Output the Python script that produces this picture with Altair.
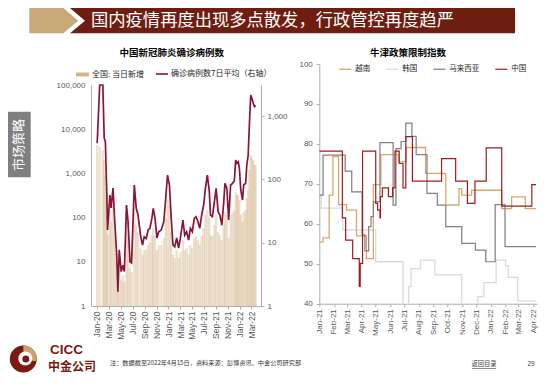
import altair as alt
import pandas as pd

CJK = "Noto Sans CJK SC"
LAT = "Liberation Sans"

# ---------------- left panel: 中国新冠肺炎确诊病例数 ----------------
case_dates = [
    "2020-01-02", "2020-01-15", "2020-01-31", "2020-02-07", "2020-02-13", "2020-02-20", "2020-02-24",
    "2020-03-07", "2020-03-13", "2020-03-23", "2020-04-01", "2020-04-11", "2020-04-17", "2020-04-24",
    "2020-05-04", "2020-05-13", "2020-05-20", "2020-05-31", "2020-06-08", "2020-06-18", "2020-06-26",
    "2020-07-10", "2020-07-20", "2020-07-29", "2020-08-11", "2020-08-21", "2020-08-30", "2020-09-09",
    "2020-09-19", "2020-09-28", "2020-10-08", "2020-10-15", "2020-10-24", "2020-11-03", "2020-11-12",
    "2020-11-25", "2020-12-08", "2020-12-18", "2020-12-27", "2021-01-06", "2021-01-15", "2021-01-24",
    "2021-02-02", "2021-02-12", "2021-02-22", "2021-03-03", "2021-03-16", "2021-03-25", "2021-04-04",
    "2021-04-14", "2021-04-23", "2021-05-03", "2021-05-13", "2021-05-22", "2021-06-01", "2021-06-10",
    "2021-06-20", "2021-06-30", "2021-07-09", "2021-07-19", "2021-07-29", "2021-08-04", "2021-08-14",
    "2021-08-24", "2021-09-02", "2021-09-12", "2021-09-21", "2021-10-01", "2021-10-11", "2021-10-17",
    "2021-10-27", "2021-11-05", "2021-11-15", "2021-11-25", "2021-12-04", "2021-12-11", "2021-12-17",
    "2021-12-24", "2021-12-30", "2022-01-06", "2022-01-15", "2022-01-21", "2022-01-31", "2022-02-06",
    "2022-02-13", "2022-02-19", "2022-02-26", "2022-03-04", "2022-03-11", "2022-03-17", "2022-03-23",
]
# 确诊病例数7日平均（右轴）
case_avg7 = [
    372, 3100, 3100, 451, 394, 64, 15.9,
    56.7, 35.3, 73, 21.5, 6.4, 1.68, 7.7,
    3.5, 4.4, 3.5, 39.4, 21.5, 5.0, 4.8,
    81.6, 35.3, 27.4, 13.2, 9.2, 12.4, 11.7,
    15.9, 16.9, 24.3, 34.9, 24.5, 11.9, 14.9,
    15.9, 21.5, 50.8, 117, 81.6, 24.3, 9.2,
    8.6, 11.9, 8.2, 11.9, 22.8, 13.2, 14.9,
    11.0, 16.9, 14.9, 24.3, 25.8, 21.5, 16.9,
    27.4, 39.4, 72.3, 117, 64, 27.4, 25.8,
    44.4, 72.3, 30.9, 27.4, 19.0, 44.4, 86.7,
    72.3, 22.8, 81.6, 86.7, 94.4, 202, 180,
    190, 150, 68, 47.3, 81.6, 86.7, 169,
    243, 724, 2153, 1910, 1592, 1408, 1480,
]
# 全国: 当日新增（左轴）
case_daily = [
    4390, 3960, 3380, 2010, 920, 324, 40,
    149, 80, 193, 40, 9.9, 2.3, 9.9,
    3.9, 5.0, 3.5, 80, 40, 7.2, 5.9,
    193, 68, 47, 20.5, 14.3, 18.5, 18.5,
    24, 28, 40, 58, 40, 18.5, 24,
    24, 34.5, 98, 250, 193, 47, 14.3,
    12.2, 18.5, 12.2, 16.7, 31, 18.5, 20.5,
    14.3, 24, 20.5, 34.5, 38, 31, 24,
    40, 58, 115, 149, 98, 40, 38,
    68, 115, 47, 40, 31, 68, 134,
    115, 34.5, 115, 134, 149, 379, 324,
    324, 250, 115, 80, 134, 149, 277,
    421, 1194, 2610, 2230, 2010, 1549, 1549,
]
left_ticks = ["2020-01-01", "2020-03-01", "2020-05-01", "2020-07-01", "2020-09-01", "2020-11-01",
              "2021-01-01", "2021-03-01", "2021-05-01", "2021-07-01", "2021-09-01", "2021-11-01",
              "2022-01-01", "2022-03-01"]
left_span = ["2019-12-27", "2022-03-25"]

# ---------------- right panel: 牛津政策限制指数 ----------------
countries = ["越南", "韩国", "马来西亚", "中国"]
kr_dates = ["2021-01-01", "2021-01-05", "2021-02-20", "2021-05-01", "2021-06-28", "2021-07-10", "2021-07-15",
            "2021-08-04", "2021-09-04", "2021-10-31", "2021-12-04", "2021-12-17", "2022-01-12", "2022-02-01",
            "2022-02-07", "2022-02-27", "2022-04-07"]
kr_vals = [67.2, 63.9, 58.5, 50.5, 38, 44.3, 48.8, 50.9, 47.2, 38, 41.8, 45.3, 50.9, 49.5, 46.6, 40.7, 40.7]

vn_dates = ["2021-01-01", "2021-01-09", "2021-01-22", "2021-01-30", "2021-02-11", "2021-02-28", "2021-03-21",
            "2021-04-11", "2021-04-26", "2021-05-12", "2021-06-18", "2021-07-05", "2021-08-15", "2021-09-27",
            "2021-10-25", "2021-10-31", "2021-11-21", "2022-01-24", "2022-02-14", "2022-03-15", "2022-04-07"]
vn_vals = [55.5, 56.5, 67.2, 76.8, 64.8, 63.4, 57.0, 51.3, 69.8, 77.3, 75.5, 79.1, 72.6, 64.7,
           68.8, 67.2, 68.4, 63.8, 66.75, 63.8, 63.8]

my_dates = ["2021-01-01", "2021-01-09", "2021-02-25", "2021-03-11", "2021-04-02", "2021-04-08", "2021-04-16",
            "2021-04-21", "2021-04-26", "2021-05-10", "2021-06-07", "2021-06-13", "2021-06-24", "2021-07-04",
            "2021-07-17", "2021-07-26", "2021-08-18", "2021-09-09", "2021-09-27", "2021-10-31", "2021-11-29",
            "2021-12-21", "2022-01-10", "2022-01-31", "2022-04-07"]
my_vals = [67.2, 77.2, 73.2, 68.0, 57.2, 53.2, 59.3, 61.8, 65.5, 80.3, 64.7, 78.8, 80.6, 85.2,
           81.9, 77.3, 67.6, 64.7, 59.3, 55.1, 53.4, 50.5, 64.8, 54.3, 54.3]

cn_dates = ["2021-01-01", "2021-02-19", "2021-02-26", "2021-03-13", "2021-03-27", "2021-03-29", "2021-04-03",
            "2021-05-01", "2021-05-05", "2021-05-10", "2021-05-11", "2021-05-15", "2021-05-28", "2021-06-06",
            "2021-06-11", "2021-06-20", "2021-06-28", "2021-07-04", "2021-07-18", "2021-09-18", "2021-10-18",
            "2021-11-12", "2021-11-28", "2021-12-22", "2022-01-24", "2022-03-29", "2022-04-07"]
cn_vals = [78.2, 61.5, 55.9, 51.3, 44.3, 50.1, 78.2, 65.1, 63.4, 61.5, 66.8, 69.0, 66.8, 69.0,
           78.2, 75.1, 69.0, 81.8, 70.7, 76.3, 70.7, 65.1, 70.7, 79.0, 64.4, 69.8, 69.8]

right_ticks = ["2021-01-01", "2021-02-01", "2021-03-01", "2021-04-01", "2021-05-01", "2021-06-01",
               "2021-07-01", "2021-08-01", "2021-09-01", "2021-10-01", "2021-11-01", "2021-12-01",
               "2022-01-01", "2022-02-01", "2022-03-01", "2022-04-01"]
right_span = ["2021-01-01", "2022-04-09"]

# ---------------- texts ----------------
banner_text = "国内疫情再度出现多点散发，行政管控再度趋严"
left_title = "中国新冠肺炎确诊病例数"
right_title = "牛津政策限制指数"
side_text = "市场策略"
note_text = "注：数据截至2022年4月15日，资料来源：彭博资讯，中金公司研究部"


def ms(s):
    return int(pd.Timestamp(s, tz="UTC").value // 10**6)


AX = dict(labelColor="#595959", domainColor="#ADADAD", tickColor="#ADADAD", grid=False,
          title=None, labelFont=LAT)

# ---------------- build left panel ----------------
ldf = pd.DataFrame({"date": case_dates, "avg": case_avg7, "daily": case_daily, "base": 1.0})
ldf["s1"] = "全国: 当日新增"
ldf["s2"] = "确诊病例数7日平均（右轴）"

lx = alt.X("date:T",
           scale=alt.Scale(type="utc", domain=[ms(left_span[0]), ms(left_span[1])], nice=False),
           axis=alt.Axis(values=[ms(t) for t in left_ticks], format="%b-%y", labelAngle=-90,
                         labelFontSize=8.5, tickSize=3, labelPadding=2, labelOverlap=False, **AX))

bars = alt.Chart(ldf).mark_bar(size=2.4, opacity=0.4).encode(
    x=lx,
    y=alt.Y("daily:Q",
            scale=alt.Scale(type="log", domain=[1, 100000], range=[242, 21], nice=False),
            axis=alt.Axis(values=[1, 10, 100, 1000, 10000, 100000], format=",", ticks=False,
                          labelFontSize=8, labelPadding=6, **AX)),
    y2="base:Q",
    color=alt.Color("s1:N", scale=alt.Scale(range=["#D2B48A"]),
                    legend=alt.Legend(orient="none", legendX=-16, legendY=3, title=None,
                                      symbolType="M-1,-0.3H1V0.3H-1Z", symbolSize=169,
                                      symbolOpacity=1, labelFontSize=8, labelFont=CJK,
                                      labelColor="#262626", labelOffset=2)),
)

line = alt.Chart(ldf).mark_line(strokeWidth=1.7).encode(
    x=lx,
    y=alt.Y("avg:Q",
            scale=alt.Scale(type="log", domain=[1, 3100], range=[242, 21], nice=False),
            axis=alt.Axis(orient="right", values=[1, 10, 100, 1000], format=",", tickSize=3,
                          labelFontSize=8, labelPadding=3, **AX)),
    stroke=alt.Stroke("s2:N", scale=alt.Scale(range=["#8A1538"]),
                      legend=alt.Legend(orient="none", legendX=64, legendY=3, title=None,
                                        symbolType="stroke", symbolSize=144, symbolStrokeWidth=1.6,
                                        labelFontSize=8, labelFont=CJK, labelColor="#262626",
                                        labelOffset=2)),
)

one = pd.DataFrame({"k": [0]})


def deco_text(s, x, y, size, color, font=CJK, weight="normal", align="left", angle=0):
    return alt.Chart(one).mark_text(text=s, fontSize=size, color=color, font=font, fontWeight=weight,
                                    align=align, baseline="middle", angle=angle).encode(
        x=alt.value(x), y=alt.value(y))


def deco_rect(x1, x2, y1, y2, color):
    return alt.Chart(one).mark_rect(color=color).encode(
        x=alt.value(x1), x2=alt.value(x2), y=alt.value(y1), y2=alt.value(y2))


def deco_poly(path, color):
    return alt.Chart(one).mark_point(shape=path, size=4, filled=True, opacity=1, color=color,
                                     strokeWidth=0).encode(x=alt.value(0), y=alt.value(0))


def deco_disc(cx, cy, r, color, t0=0.0, t1=6.2832):
    return alt.Chart(one).mark_arc(radius=r, theta=t0, theta2=t1, color=color).encode(
        x=alt.value(cx), y=alt.value(cy))


DARK = "#7A1A12"
TAN = "#C8A36E"
decos = [
    deco_poly("M-61.7,-56L-27.7,-56L-12.7,-43.3L-27.7,-30.7L-61.7,-30.7Z", "#C9A97A"),
    deco_poly("M-21,-56L424,-56L424,-30.7L-21,-30.7L-6,-43.3Z", "#6E1D10"),
    deco_text(banner_text, 0, -43.4, 17.3, "white"),
    deco_rect(-83, -60.3, 47.7, 113.3, "#7F7F7F"),
    deco_text(side_text, -72.5, 81, 13, "white", align="center", angle=270),
    deco_text(left_title, 80.7, -10.7, 9.5, "black", weight="bold", align="center"),
    deco_disc(-67.7, 295, 13.5, DARK),
    deco_disc(-67.7, 295, 13.5, TAN, 0.0, 1.75),
    deco_disc(-65.7, 294.5, 7, "white"),
    deco_disc(-65.2, 295, 3.5, DARK),
    deco_text("CICC", -41, 286.3, 13.5, DARK, font=LAT, weight="bold"),
    deco_text("中金公司", -43, 302.8, 12, DARK, weight="bold"),
    deco_text(note_text, 19, 298.7, 6.2, "#333333"),
    deco_text("返回目录", 393, 300, 6.3, "#404040", align="center"),
    deco_rect(381, 405, 304, 304.6, "#404040"),
    deco_text("29", 440, 300, 6.5, "#404040", font=LAT, align="center"),
]

left = alt.layer(bars, line, *decos).resolve_scale(y="independent").properties(width=170, height=242)

# ---------------- build right panel ----------------
frames = []
for name, d, v in [("韩国", kr_dates, kr_vals), ("越南", vn_dates, vn_vals),
                   ("马来西亚", my_dates, my_vals), ("中国", cn_dates, cn_vals)]:
    frames.append(pd.DataFrame({"date": d, "value": v, "country": name}))
rdf = pd.concat(frames, ignore_index=True)

rlines = alt.Chart(rdf).mark_line(interpolate="step-after", clip=True).encode(
    x=alt.X("date:T",
            scale=alt.Scale(type="utc", domain=[ms(right_span[0]), ms(right_span[1])], nice=False),
            axis=alt.Axis(values=[ms(t) for t in right_ticks], format="%b-%y", labelAngle=-90,
                          labelFontSize=8, tickSize=3, labelPadding=2, labelOverlap=False, **AX)),
    y=alt.Y("value:Q", scale=alt.Scale(domain=[40, 100], zero=False, nice=False),
            axis=alt.Axis(values=[40, 50, 60, 70, 80, 90, 100], tickSize=3, labelFontSize=8,
                          labelPadding=4, **AX)),
    color=alt.Color("country:N",
                    scale=alt.Scale(domain=countries, range=["#D6A86C", "#D9D9D9", "#808080", "#A31A1E"]),
                    legend=alt.Legend(orient="none", legendX=19, legendY=-2, title=None, direction="horizontal",
                                      columns=4, symbolType="stroke", symbolSize=144, symbolStrokeWidth=1.5,
                                      labelFontSize=7.5, labelFont=CJK, labelColor="#262626",
                                      labelOffset=3, columnPadding=13)),
    strokeWidth=alt.StrokeWidth("country:N",
                                scale=alt.Scale(domain=countries, range=[1.3, 1.2, 1.3, 1.5]),
                                legend=None),
    detail="country:N",
)

rtitle = deco_text(right_title, 88.7, -11.3, 9.5, "black", weight="bold", align="center")

right = alt.layer(rlines, rtitle).properties(width=217.7, height=239.7)

chart = (
    alt.hconcat(left, right, spacing=58.3, bounds="flush", padding=0)
    .resolve_scale(color="independent", stroke="independent", strokeWidth="independent",
                   x="independent", y="independent")
    .resolve_legend(color="independent", stroke="independent")
    .configure_view(strokeWidth=0)
)

chart.save("out.html", embed_options={"renderer": "svg", "actions": False})
